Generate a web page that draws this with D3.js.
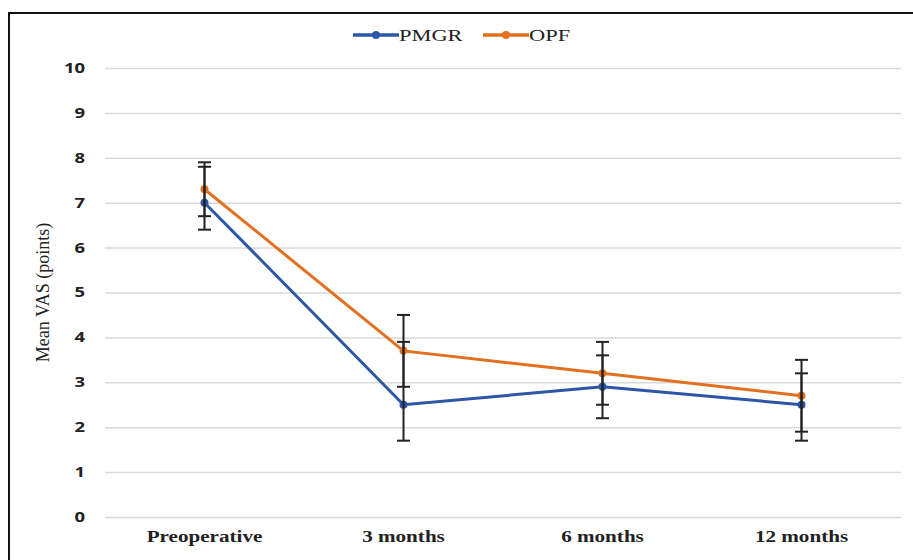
<!DOCTYPE html>
<html>
<head>
<meta charset="utf-8">
<script src="https://cdn.jsdelivr.net/npm/d3@7"></script>
<style>
  body { margin: 0; background: #fff; }
  svg { display: block; }
</style>
</head>
<body>
<script>
// chart values
const timepoints = ["Preoperative", "3 months", "6 months", "12 months"];
const pmgr = [7.0, 2.5, 2.9, 2.5];
const pmgrLow = [6.4, 1.7, 2.2, 1.7];
const pmgrHigh = [7.8, 3.9, 3.6, 3.2];
const opf = [7.3, 3.7, 3.2, 2.7];
const opfLow = [6.7, 2.9, 2.5, 1.9];
const opfHigh = [7.9, 4.5, 3.9, 3.5];
const yTicks = [0, 1, 2, 3, 4, 5, 6, 7, 8, 9, 10];

const width = 913, height = 560;
const margin = {top: 68, left: 105, right: 12, bottom: 43};
const stretch = "scale(1.32,1)"; // the source picture is widened

const series = [
  {name: "PMGR", color: "#2D55A8", values: pmgr, low: pmgrLow, high: pmgrHigh},
  {name: "OPF", color: "#E2701F", values: opf, low: opfLow, high: opfHigh}
];

const svg = d3.select("body").append("svg")
  .attr("width", width)
  .attr("height", height);

// outer frame (top and left edges only visible)
svg.append("path")
  .attr("d", "M9," + height + "V13H" + width)
  .attr("fill", "none")
  .attr("stroke", "#111")
  .attr("stroke-width", 2);

const xScale = d3.scaleBand()
  .domain(timepoints)
  .range([margin.left, width - margin.right]);

const yScale = d3.scaleLinear()
  .domain([0, 10])
  .range([height - margin.bottom, margin.top]);

// gridlines + y labels
const yAxis = svg.append("g")
  .attr("transform", "translate(" + margin.left + ",0)")
  .call(d3.axisLeft(yScale).tickValues(yTicks).tickSize(-(width - margin.right - margin.left)));
yAxis.select(".domain").remove();
yAxis.selectAll(".tick line").attr("stroke", "#d9d9d9").attr("stroke-width", 1.5);
yAxis.selectAll(".tick text")
  .attr("x", 0)
  .attr("transform", "translate(-20,0) " + stretch)
  .attr("font-family", "'Open Sans', sans-serif")
  .attr("font-weight", "bold")
  .attr("font-size", 14)
  .attr("fill", "#222");

// x labels
const xAxis = svg.append("g")
  .attr("transform", "translate(0," + (height - margin.bottom) + ")")
  .call(d3.axisBottom(xScale).tickSize(0).tickPadding(14));
xAxis.select(".domain").remove();
xAxis.selectAll(".tick text")
  .attr("transform", stretch)
  .attr("font-family", "'Liberation Serif', serif")
  .attr("font-weight", "bold")
  .attr("font-size", 16)
  .attr("fill", "#222");

// y axis title
svg.append("text")
  .attr("transform", "translate(49," + yScale(5) + ") rotate(-90)")
  .attr("text-anchor", "middle")
  .attr("font-family", "'Liberation Serif', serif")
  .attr("font-size", 18)
  .attr("fill", "#222")
  .text("Mean VAS (points)");

const cx = d => xScale(d) + xScale.bandwidth() / 2;

const line = d3.line()
  .x((d, i) => cx(timepoints[i]))
  .y(d => yScale(d));

// lines and markers
series.forEach(function(s) {
  svg.append("path")
    .datum(s.values)
    .attr("d", line)
    .attr("fill", "none")
    .attr("stroke", s.color)
    .attr("stroke-width", 3);

  svg.selectAll(".dot-" + s.name)
    .data(s.values)
    .enter().append("circle")
    .attr("cx", (d, i) => cx(timepoints[i]))
    .attr("cy", d => yScale(d))
    .attr("r", 4)
    .attr("fill", s.color);
});

// error bars on top
series.forEach(function(s) {
  const g = svg.append("g").attr("stroke", "#222").attr("stroke-width", 2);
  timepoints.forEach(function(t, i) {
    const x = cx(t);
    g.append("line")
      .attr("x1", x).attr("x2", x)
      .attr("y1", yScale(s.low[i])).attr("y2", yScale(s.high[i]));
    [s.low[i], s.high[i]].forEach(function(v) {
      g.append("line")
        .attr("x1", x - 6.5).attr("x2", x + 6.5)
        .attr("y1", yScale(v)).attr("y2", yScale(v));
    });
  });
});

// legend
const legendX = [353, 483];
const legend = svg.selectAll(".legend")
  .data(series)
  .enter().append("g")
  .attr("class", "legend")
  .attr("transform", (d, i) => "translate(" + legendX[i] + ",35)");
legend.append("line")
  .attr("x1", 0).attr("x2", 46)
  .attr("stroke", d => d.color)
  .attr("stroke-width", 3.5);
legend.append("circle")
  .attr("cx", 23).attr("r", 4)
  .attr("fill", d => d.color);
legend.append("text")
  .attr("transform", "translate(46,0) " + stretch)
  .attr("dy", "0.35em")
  .attr("font-family", "'Liberation Serif', serif")
  .attr("font-size", 17)
  .attr("fill", "#222")
  .text(d => d.name);
</script>
</body>
</html>
